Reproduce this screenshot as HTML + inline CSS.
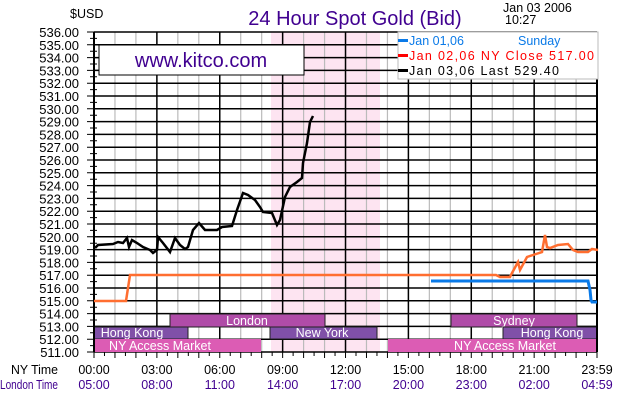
<!DOCTYPE html>
<html><head><meta charset="utf-8"><style>
body{margin:0;background:#fff}
svg{display:block;font-family:"Liberation Sans",sans-serif}
</style></head><body>
<svg width="630" height="400" viewBox="0 0 630 400" xmlns="http://www.w3.org/2000/svg">
<rect x="0" y="0" width="630" height="400" fill="#fff"/>
<rect x="271" y="32" width="109" height="320" fill="#fde4f1"/>
<path fill="none" stroke="#bbb" stroke-width="1.2" d="M114.96 32V352M135.92 32V352M177.84 32V352M198.8 32V352M240.72 32V352M261.68 32V352M303.6 32V352M324.56 32V352M366.48 32V352M387.44 32V352M429.36 32V352M450.32 32V352M492.24 32V352M513.2 32V352M555.12 32V352M576.08 32V352"/>
<path fill="none" stroke="#000" stroke-width="1.5" d="M156.88 32V352M219.76 32V352M282.64 32V352M345.52 32V352M408.4 32V352M471.28 32V352M534.16 32V352"/>
<path fill="none" stroke="#000" stroke-width="1.5" d="M94 32H597M94 44.8H597M94 57.6H597M94 70.4H597M94 83.2H597M94 96H597M94 108.8H597M94 121.6H597M94 134.4H597M94 147.2H597M94 160H597M94 172.8H597M94 185.6H597M94 198.4H597M94 211.2H597M94 224H597M94 236.8H597M94 249.6H597M94 262.4H597M94 275.2H597M94 288H597M94 300.8H597M94 313.6H597M94 326.4H597M94 339.2H597M94 352H597"/>
<path fill="none" stroke="#000" stroke-width="1" d="M87 32H100M87 44.8H100M87 57.6H100M87 70.4H100M87 83.2H100M87 96H100M87 108.8H100M87 121.6H100M87 134.4H100M87 147.2H100M87 160H100M87 172.8H100M87 185.6H100M87 198.4H100M87 211.2H100M87 224H100M87 236.8H100M87 249.6H100M87 262.4H100M87 275.2H100M87 288H100M87 300.8H100M87 313.6H100M87 326.4H100M87 339.2H100M87 352H100
M90 38.4H97M90 51.2H97M90 64H97M90 76.8H97M90 89.6H97M90 102.4H97M90 115.2H97M90 128H97M90 140.8H97M90 153.6H97M90 166.4H97M90 179.2H97M90 192H97M90 204.8H97M90 217.6H97M90 230.4H97M90 243.2H97M90 256H97M90 268.8H97M90 281.6H97M90 294.4H97M90 307.2H97M90 320H97M90 332.8H97M90 345.6H97"/>
<g font-size="13" text-anchor="end">
<text x="79" y="37">536.00</text><text x="79" y="49.8">535.00</text><text x="79" y="62.6">534.00</text><text x="79" y="75.4">533.00</text><text x="79" y="88.2">532.00</text><text x="79" y="101">531.00</text><text x="79" y="113.8">530.00</text><text x="79" y="126.6">529.00</text><text x="79" y="139.4">528.00</text><text x="79" y="152.2">527.00</text><text x="79" y="165">526.00</text><text x="79" y="177.8">525.00</text><text x="79" y="190.6">524.00</text><text x="79" y="203.4">523.00</text><text x="79" y="216.2">522.00</text><text x="79" y="229">521.00</text><text x="79" y="241.8">520.00</text><text x="79" y="254.6">519.00</text><text x="79" y="267.4">518.00</text><text x="79" y="280.2">517.00</text><text x="79" y="293">516.00</text><text x="79" y="305.8">515.00</text><text x="79" y="318.6">514.00</text><text x="79" y="331.4">513.00</text><text x="79" y="344.2">512.00</text><text x="79" y="357">511.00</text>
</g>
<g font-size="12.5" fill="#fff" text-anchor="middle">
<rect x="170" y="314" width="155" height="13" fill="#b04ca8" stroke="#222"/><text x="247" y="325">London</text>
<rect x="451" y="314" width="126" height="13" fill="#b04ca8" stroke="#222"/><text x="514" y="325">Sydney</text>
<rect x="94" y="327" width="94" height="12" fill="#8050a8" stroke="#222"/><text x="132" y="337">Hong Kong</text>
<rect x="503" y="327" width="94" height="12" fill="#8050a8" stroke="#222"/><text x="552" y="337">Hong Kong</text>
<rect x="270" y="327" width="107" height="12" fill="#8050a8" stroke="#222"/><text x="322" y="337">New York</text>
<rect x="94" y="339" width="167" height="13" fill="#dc5cb4"/><text x="160" y="350">NY Access Market</text>
<rect x="388" y="339" width="209" height="13" fill="#dc5cb4"/><text x="505" y="350">NY Access Market</text>
</g>
<path fill="none" stroke="#000" d="M94 352v6M104.48 352v4M114.96 352v6M125.44 352v4M135.92 352v6M146.4 352v4M156.88 352v6M167.36 352v4M177.84 352v6M188.32 352v4M198.8 352v6M209.28 352v4M219.76 352v6M230.24 352v4M240.72 352v6M251.2 352v4M261.68 352v6M272.16 352v4M282.64 352v6M293.12 352v4M303.6 352v6M314.08 352v4M324.56 352v6M335.04 352v4M345.52 352v6M356 352v4M366.48 352v6M376.96 352v4M387.44 352v6M397.92 352v4M408.4 352v6M418.88 352v4M429.36 352v6M439.84 352v4M450.32 352v6M460.8 352v4M471.28 352v6M481.76 352v4M492.24 352v6M502.72 352v4M513.2 352v6M523.68 352v4M534.16 352v6M544.64 352v4M555.12 352v6M565.6 352v4M576.08 352v6M586.56 352v4M597 352v6"/>
<g font-size="12.5" text-anchor="middle">
<text x="94" y="374">00:00</text><text x="156.88" y="374">03:00</text><text x="219.76" y="374">06:00</text><text x="282.64" y="374">09:00</text><text x="345.52" y="374">12:00</text><text x="408.4" y="374">15:00</text><text x="471.28" y="374">18:00</text><text x="534.16" y="374">21:00</text><text x="597" y="374">23:59</text>
</g>
<g font-size="12.5" text-anchor="middle" fill="#400090">
<text x="94" y="389">05:00</text><text x="156.88" y="389">08:00</text><text x="219.76" y="389">11:00</text><text x="282.64" y="389">14:00</text><text x="345.52" y="389">17:00</text><text x="408.4" y="389">20:00</text><text x="471.28" y="389">23:00</text><text x="534.16" y="389">02:00</text><text x="597" y="389">04:59</text>
</g>
<line x1="94" y1="32" x2="94" y2="352" stroke="#000" stroke-width="2"/>
<line x1="597" y1="32" x2="597" y2="352" stroke="#000" stroke-width="2"/>
<polyline fill="none" stroke="#ff6e30" stroke-width="2.5" points="94,301 126,301 130,275 496,275 500,277 510,277 512,273 518,262 520,270 527,257 533,255 542,252 545,235 547,247 550,248 558,245 568,244 573,250 578,252 588,252 592,249 598,250"/>
<polyline fill="none" stroke="#0a7ae8" stroke-width="3" points="431,281 588,281 590,290 591,300 592,302 597,302"/>
<polyline fill="none" stroke="#000" stroke-width="2.5" points="95,248 98,245 113,244 118,242 123,243 127,238 129,247 132,240 137,243 143,247 150,250 153,253 157,250 158,237 163,243 170,252 175,238 180,245 185,249 188,247 193,230 199,223 205,230 217,230 222,227 232,226 237,210 243,193 248,195 255,200 260,207 263,212 272,213 277,225 280,220 285,197 290,187 297,182 302,178 303,163 307,143 310,122 313,116"/>
<rect x="99" y="45" width="205" height="30" fill="#fff" stroke="#000"/>
<text x="201" y="67" font-size="20" fill="#400090" text-anchor="middle">www.kitco.com</text>
<rect x="398" y="32" width="200" height="47" fill="#fff" stroke="#bbb"/>
<g font-size="12.5">
<rect x="398" y="39" width="10" height="3" fill="#0a7ae8"/><text x="409" y="45" fill="#0a7ae8">Jan 01,06</text><text x="518" y="45" fill="#0a7ae8">Sunday</text>
<rect x="398" y="54" width="10" height="3" fill="#f00"/><text x="409" y="60" fill="#f00" textLength="185">Jan 02,06  NY Close  517.00</text>
<rect x="398" y="69" width="10" height="3" fill="#000"/><text x="409" y="75" textLength="150">Jan 03,06  Last  529.40</text>
</g>
<text x="70" y="18" font-size="12.5">$USD</text>
<text x="355" y="25" font-size="20" fill="#400090" text-anchor="middle">24 Hour Spot Gold (Bid)</text>
<text x="503" y="12" font-size="12.5">Jan 03 2006</text>
<text x="505" y="24" font-size="12.5">10:27</text>
<text x="11" y="374" font-size="12.5" textLength="47" lengthAdjust="spacingAndGlyphs">NY Time</text>
<text x="0" y="389" font-size="12.5" fill="#400090" textLength="58" lengthAdjust="spacingAndGlyphs">London Time</text>
</svg>
</body></html>
